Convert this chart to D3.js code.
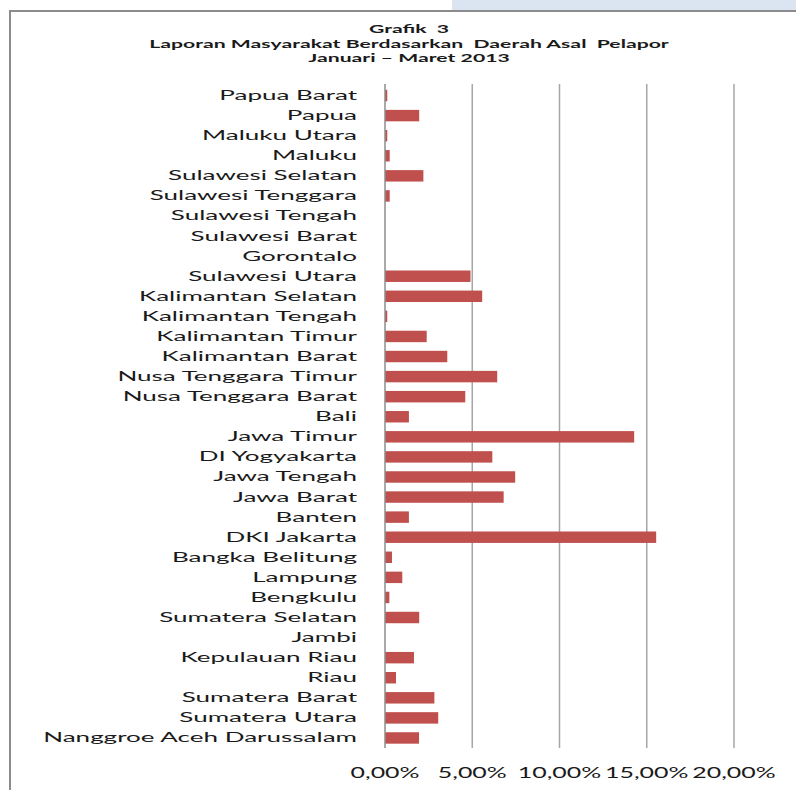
<!DOCTYPE html>
<html>
<head>
<meta charset="utf-8">
<script src="https://cdn.jsdelivr.net/npm/d3@7"></script>
<style>
  body { margin: 0; background: #fff; }
  svg { display: block; }
  text { font-family: Lato, "Open Sans", sans-serif; fill: #1a1a1a; white-space: pre; }
</style>
</head>
<body>
<div id="chart"></div>
<script>
// regions, top to bottom as they appear in the chart
var regions = [
  'Papua Barat', 'Papua', 'Maluku Utara', 'Maluku', 'Sulawesi Selatan',
  'Sulawesi Tenggara', 'Sulawesi Tengah', 'Sulawesi Barat', 'Gorontalo',
  'Sulawesi Utara', 'Kalimantan Selatan', 'Kalimantan Tengah', 'Kalimantan Timur',
  'Kalimantan Barat', 'Nusa Tenggara Timur', 'Nusa Tenggara Barat', 'Bali',
  'Jawa Timur', 'DI Yogyakarta', 'Jawa Tengah', 'Jawa Barat', 'Banten',
  'DKI Jakarta', 'Bangka Belitung', 'Lampung', 'Bengkulu', 'Sumatera Selatan',
  'Jambi', 'Kepulauan Riau', 'Riau', 'Sumatera Barat', 'Sumatera Utara',
  'Nanggroe Aceh Darussalam'
]
// share of reports (%)
var shares = [
  0.13, 1.96, 0.13, 0.27, 2.2,
  0.27, 0, 0, 0,
  4.9, 5.57, 0.13, 2.39,
  3.57, 6.43, 4.6, 1.37,
  14.28, 6.15, 7.46, 6.8, 1.37,
  15.54, 0.4, 0.99, 0.25, 1.96,
  0, 1.66, 0.63, 2.83, 3.05,
  1.95
]
var xTicks = [0, 5, 10, 15, 20]
var titleLines = ['Grafik  3', 'Laporan Masyarakat Berdasarkan  Daerah Asal  Pelapor', 'Januari \u2013 Maret 2013']

var W = 796, H = 790
var svg = d3.select('#chart').append('svg')
  .attr('width', W)
  .attr('height', H)

// page decoration: blue strip and frame edges
svg.append('rect')
  .attr('x', 452).attr('y', 0)
  .attr('width', W - 452).attr('height', 10)
  .attr('fill', '#dbe5f1')
svg.append('line')
  .attr('x1', 9).attr('x2', W).attr('y1', 11).attr('y2', 11)
  .attr('stroke', '#8c8c8c').attr('stroke-width', 2)
svg.append('line')
  .attr('x1', 10).attr('x2', 10).attr('y1', 10).attr('y2', H)
  .attr('stroke', '#8c8c8c').attr('stroke-width', 2)

// stretch text horizontally so it spans the given width
function stretchFactor(str, size, weight, target) {
  var t = svg.append('text')
    .style('font-size', size + 'px')
    .style('font-weight', weight)
    .text(str)
  var w = t.node().getComputedTextLength()
  t.remove()
  return target / w
}

// title
var titleSx = stretchFactor(titleLines[1], 12, 'bold', 520)
svg.append('g').selectAll('text')
  .data(titleLines)
  .enter()
  .append('text')
  .attr('transform', (d, i) => `translate(409,${33 + i * 14.5}) scale(${titleSx},1)`)
  .attr('text-anchor', 'middle')
  .style('font-size', '12px')
  .style('font-weight', 'bold')
  .text(d => d)

var x = d3.scaleLinear().domain([0, 20]).range([385, 734])
var y = d3.scaleBand().domain(regions).range([85.5, 748]).paddingInner(0.43).paddingOuter(0.215)

// gridlines
svg.append('g').selectAll('line')
  .data(xTicks.slice(1))
  .enter()
  .append('line')
  .attr('x1', d => x(d)).attr('x2', d => x(d))
  .attr('y1', 84).attr('y2', 748)
  .attr('stroke', '#a6a6a6').attr('stroke-width', 1.5)

// bars
svg.append('g').selectAll('rect')
  .data(regions)
  .enter()
  .append('rect')
  .attr('x', x(0))
  .attr('y', d => y(d))
  .attr('height', y.bandwidth())
  .attr('width', (d, i) => x(shares[i]) - x(0))
  .attr('fill', '#c0504d')

// value axis line
svg.append('line')
  .attr('x1', x(0)).attr('x2', x(0))
  .attr('y1', 84).attr('y2', 748)
  .attr('stroke', '#8c8c8c').attr('stroke-width', 1.5)

// category labels
var labelSx = stretchFactor('Nanggroe Aceh Darussalam', 12.5, 'normal', 314)
svg.append('g').selectAll('text')
  .data(regions)
  .enter()
  .append('text')
  .attr('transform', d => `translate(357,${y(d) + y.bandwidth() / 2 + 4.5}) scale(${labelSx},1)`)
  .attr('text-anchor', 'end')
  .style('font-size', '12.5px')
  .text(d => d)

// tick labels
var fmt = d => d.toFixed(2).replace('.', ',') + '%'
var tickSx = stretchFactor('0,00%', 14.5, 'normal', 69)
svg.append('g').selectAll('text')
  .data(xTicks)
  .enter()
  .append('text')
  .attr('transform', d => `translate(${x(d)},778) scale(${tickSx},1)`)
  .attr('text-anchor', 'middle')
  .style('font-size', '14.5px')
  .text(fmt)
</script>
</body>
</html>
